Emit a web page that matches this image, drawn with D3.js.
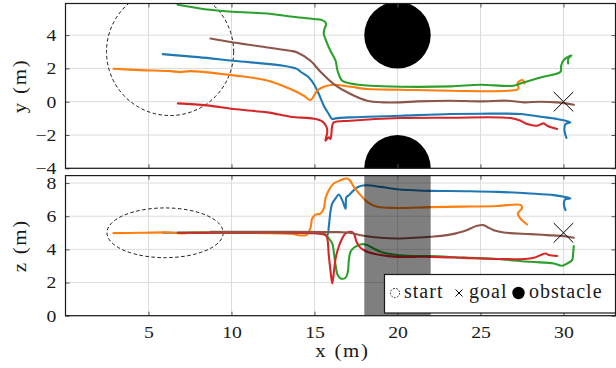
<!DOCTYPE html>
<html><head><meta charset="utf-8">
<script src="https://cdn.jsdelivr.net/npm/d3@7"></script>
<style>
body{margin:0;background:#fff}
svg{display:block}
text{font-family:"Liberation Serif","Times New Roman",serif;fill:#1a1a1a}
</style>
</head><body>
<svg id="c" width="616" height="368"></svg>
<script>
// ---------- data ----------
const xTicks = [5, 10, 15, 20, 25, 30];
const yTicks = [-4, -2, 0, 2, 4];
const zTicks = [0, 2, 4, 6, 8];
const seriesColors = ["#1f77b4", "#ff7f0e", "#2ca02c", "#d62728", "#8c564b"];

const blueXY = [[5.86,2.86],[8,2.68],[10.12,2.46],[13.13,2.16],[13.96,1.96],[14.16,1.8],[14.66,1.46],[14.96,1.06],[15.26,0.46],[15.56,-0.24],[15.86,-0.74],[16.07,-1.04],[16.27,-1.0],[17.17,-0.94],[20.18,-0.84],[23.19,-0.74],[24.99,-0.72],[27.41,-0.74],[28.61,-0.9],[29.62,-1.04],[30.42,-1.24],[30.12,-1.34],[30.06,-1.74],[30.18,-2.18]];
const orangeXY = [[2.89,1.98],[4.5,1.9],[6.3,1.84],[6.9,1.78],[7.5,1.84],[10.14,1.58],[12.15,1.28],[13.55,0.76],[14.36,0.36],[14.76,0.1],[15.16,0.66],[15.56,0.9],[16.16,1.02],[17.17,0.9],[18.19,0.76],[20.18,0.72],[23.19,0.66],[26.63,0.66],[27.29,0.78],[27.23,1.12],[27.53,1.3],[27.65,1.1]];
const greenXY = [[6.75,5.83],[8.73,5.52],[10.14,5.4],[12.15,5.3],[13.55,5.12],[14.96,4.97],[15.46,4.9],[15.7,4.7],[15.6,4.37],[15.56,4.07],[15.7,3.66],[15.96,3.06],[16.27,2.46],[16.39,1.86],[16.67,1.26],[17.17,1.1],[18.37,0.96],[20.18,0.9],[23.19,0.92],[24.99,1.02],[26.99,0.96],[27.59,1.16],[28.61,1.46],[29.82,1.8],[29.86,2.16],[29.98,2.46],[30.22,2.66],[30.48,2.78],[30.3,2.6],[30.28,2.3]];
const redXY = [[6.77,-0.1],[8.5,-0.22],[10.12,-0.44],[12.15,-0.64],[13.55,-0.9],[14.96,-1.02],[15.46,-1.18],[15.72,-1.5],[15.77,-1.84],[15.66,-2.34],[15.86,-2.14],[15.96,-2.24],[16.07,-1.44],[16.16,-1.24],[17.17,-1.14],[20.18,-0.98],[23.19,-0.96],[26.81,-0.98],[27.41,-1.14],[27.81,-1.34],[28.42,-1.44],[28.8,-1.3],[29.02,-1.44],[29.62,-1.64]];
const brownXY = [[8.73,3.8],[10.12,3.56],[12.17,3.26],[13.55,3.06],[13.96,2.96],[14.76,2.46],[15.36,1.8],[16.16,1.06],[17.17,0.46],[18.17,0.06],[19.17,-0.04],[20.18,-0.04],[21.19,0.02],[23.19,0.06],[24.99,0.02],[26.61,0.06],[27.61,-0.04],[28.61,0],[29.62,-0.04],[30.62,-0.18]];

const blueXZ = [[5.86,5.0],[10,5.0],[13.55,5.0],[15.46,4.96],[15.77,4.86],[15.86,5.36],[15.96,6.26],[16.07,6.77],[16.27,7.07],[16.46,7.31],[16.67,6.97],[16.87,6.46],[16.92,7.15],[17.07,7.27],[17.27,7.47],[17.47,7.67],[17.77,7.83],[18.17,7.87],[18.98,7.77],[19.98,7.63],[20.98,7.57],[21.99,7.53],[23.99,7.51],[26.01,7.47],[28.01,7.37],[29.42,7.27],[30.02,7.17],[30.42,7.07],[30.12,7.03],[30.02,6.77],[30.12,6.37]];
const orangeXZ = [[2.89,4.98],[4.5,5.0],[6.33,5.02],[6.94,4.96],[7.5,5.0],[9.94,5.0],[13.55,4.94],[14.16,4.84],[14.52,4.88],[14.76,5.3],[14.86,5.86],[15.06,6.1],[15.36,6.16],[15.56,6.46],[15.66,7.07],[15.86,7.57],[16.16,7.97],[16.57,8.17],[16.97,8.27],[17.17,8.11],[17.37,7.77],[17.77,7.27],[18.17,6.87],[18.78,6.57],[19.98,6.5],[21.99,6.55],[23.99,6.58],[26.01,6.62],[27.41,6.68],[27.51,6.5],[27.25,6.16],[27.41,5.86],[27.81,5.5]];
const greenXZ = [[6.75,5.0],[10,5.02],[13.55,5.02],[15.66,4.9],[15.86,4.66],[16.07,4.36],[16.16,3.86],[16.27,3.05],[16.4,2.45],[16.57,2.25],[16.87,2.29],[17.01,2.65],[17.07,3.35],[17.17,3.86],[17.37,4.1],[17.77,4.3],[18.07,4.3],[18.48,4.1],[18.98,3.86],[19.98,3.66],[20.98,3.6],[21.99,3.6],[23.99,3.5],[26.01,3.42],[28.01,3.25],[29.42,3.15],[29.92,3.01],[30.22,3.15],[30.52,3.35],[30.58,3.75],[30.62,4.2]];
const redXZ = [[6.77,5.0],[10,5.0],[13.55,5.0],[15.66,4.86],[15.77,4.66],[15.86,3.66],[15.96,2.75],[16.07,1.95],[16.16,2.55],[16.27,3.45],[16.46,4.16],[16.67,4.66],[16.87,4.96],[17.17,5.06],[17.37,4.96],[17.53,4.46],[17.77,4.1],[18.17,3.86],[18.98,3.66],[19.98,3.55],[20.98,3.55],[21.99,3.55],[23.99,3.49],[26.01,3.42],[27.61,3.42],[28.21,3.49],[28.92,3.75],[29.11,3.66],[29.62,3.6]];
const brownXZ = [[8.73,5.06],[10,5.06],[13.55,5.06],[15.96,5.04],[16.97,5.02],[17.97,4.82],[18.98,4.7],[19.98,4.66],[20.98,4.7],[21.99,4.76],[22.99,4.86],[23.99,5.1],[24.8,5.42],[25.2,5.46],[25.5,5.3],[25.8,5.16],[26.4,5.02],[28.01,4.92],[29.02,4.86],[30.02,4.8],[30.62,4.7]];

const obstacleCenters = [[20, 4], [20, -4]];
const obstacleRadius = 2;
const obstacleXRange = [18, 22];
const startXY = [6.3, 3], startXYRadius = 3.83;
const startXZ = [6.0, 5], startXZRadii = [3.5, 1.5];
const goalXY = [30, 0], goalXZ = [30, 5];
const legendLabels = ["start", "goal", "obstacle"];

// ---------- layout ----------
const svg = d3.select("#c");
const x = d3.scaleLinear().domain([0, 33.2]).range([65.5, 616.6]);
const yS = d3.scaleLinear().domain([-4, 5.9]).range([168.3, 3.5]);
const zS = d3.scaleLinear().domain([0, 8.45]).range([315.7, 175.6]);
const L = 65.5, R = 615.5;
const TICK_FS = 17, STRETCH = 1.16;

function panel(id, vScale, vTicks) {
  const [b, t] = vScale.range();
  const g = svg.append("g");
  svg.append("clipPath").attr("id", id)
    .append("rect").attr("x", L).attr("y", t).attr("width", R - L).attr("height", b - t);
  g.append("g").selectAll("line").data(xTicks).join("line")
    .attr("x1", d => x(d)).attr("x2", d => x(d)).attr("y1", t).attr("y2", b)
    .attr("stroke", "#dcdcdc").attr("stroke-width", 1);
  g.append("g").selectAll("line").data(vTicks).join("line")
    .attr("x1", L).attr("x2", R).attr("y1", d => vScale(d)).attr("y2", d => vScale(d))
    .attr("stroke", "#dcdcdc").attr("stroke-width", 1);
  const plot = g.append("g").attr("clip-path", `url(#${id})`);
  return {g, plot, t, b};
}

const line = (vs) => d3.line().x(d => x(d[0])).y(d => vs(d[1])).curve(d3.curveCatmullRom.alpha(0.5));

function drawSeries(plot, vs, list) {
  list.forEach((data, i) => {
    plot.append("path").attr("d", line(vs)(data)).attr("fill", "none")
      .attr("stroke", seriesColors[i]).attr("stroke-width", 2.1)
      .attr("stroke-linejoin", "round").attr("stroke-linecap", "round");
  });
}

function goal(plot, vs, p) {
  const cx = x(p[0]), cy = vs(p[1]), h = 9.8;
  plot.append("path").attr("d", `M${cx-h},${cy-h}L${cx+h},${cy+h}M${cx-h},${cy+h}L${cx+h},${cy-h}`)
    .attr("stroke", "#000").attr("stroke-width", 1).attr("fill", "none");
}

function styleText(sel) {
  sel.attr("font-size", TICK_FS).attr("fill", "#1a1a1a")
    .attr("font-family", "Liberation Serif, serif")
    .attr("transform", `scale(${STRETCH},1)`);
}

function frame(g, vs, vTicks, t, b, xLabels) {
  const left = g.append("g").attr("transform", `translate(${L},0)`)
    .call(d3.axisLeft(vs).tickValues(vTicks).tickSize(-4).tickPadding(7.8)
      .tickFormat(d => d < 0 ? "\u2212" + Math.abs(d) : d));
  left.select(".domain").remove();
  left.selectAll("line").attr("stroke", "#555");
  styleText(left.selectAll("text"));
  const right = g.append("g").attr("transform", `translate(${R},0)`)
    .call(d3.axisRight(vs).tickValues(vTicks).tickSize(-4).tickFormat(""));
  right.select(".domain").remove(); right.selectAll("line").attr("stroke", "#555");
  const top = g.append("g").attr("transform", `translate(0,${t})`)
    .call(d3.axisTop(x).tickValues(xTicks).tickSize(-4).tickFormat(""));
  top.select(".domain").remove(); top.selectAll("line").attr("stroke", "#555");
  const bot = g.append("g").attr("transform", `translate(0,${b})`)
    .call(d3.axisBottom(x).tickValues(xTicks).tickSize(-4).tickPadding(10.5).tickFormat(xLabels ? d => d : ""));
  bot.select(".domain").remove(); bot.selectAll("line").attr("stroke", "#555");
  styleText(bot.selectAll("text"));
  g.append("rect").attr("x", L).attr("y", t).attr("width", R - L).attr("height", b - t)
    .attr("fill", "none").attr("stroke", "#1a1a1a").attr("stroke-width", 1.2);
}

// ---------- top panel ----------
const P1 = panel("clipTop", yS, yTicks);
obstacleCenters.forEach(c => {
  P1.plot.append("ellipse").attr("cx", x(c[0])).attr("cy", yS(c[1]))
    .attr("rx", x(obstacleRadius) - x(0)).attr("ry", yS(0) - yS(obstacleRadius)).attr("fill", "#000");
});
P1.plot.append("ellipse").attr("cx", x(startXY[0])).attr("cy", yS(startXY[1]))
  .attr("rx", x(startXYRadius) - x(0)).attr("ry", yS(0) - yS(startXYRadius))
  .attr("fill", "none").attr("stroke", "#000").attr("stroke-width", 0.9).attr("stroke-dasharray", "3.5,2.5");
drawSeries(P1.plot, yS, [blueXY, orangeXY, greenXY, redXY, brownXY]);
goal(P1.plot, yS, goalXY);
frame(P1.g, yS, yTicks, P1.t, P1.b, false);

// ---------- bottom panel ----------
const P2 = panel("clipBot", zS, zTicks);
P2.plot.append("ellipse").attr("cx", x(startXZ[0])).attr("cy", zS(startXZ[1]))
  .attr("rx", x(startXZRadii[0]) - x(0)).attr("ry", zS(0) - zS(startXZRadii[1]))
  .attr("fill", "none").attr("stroke", "#000").attr("stroke-width", 0.9).attr("stroke-dasharray", "3.5,2.5");
drawSeries(P2.plot, zS, [blueXZ, orangeXZ, greenXZ, redXZ, brownXZ]);
goal(P2.plot, zS, goalXZ);
P2.plot.append("rect").attr("x", x(obstacleXRange[0])).attr("y", P2.t)
  .attr("width", x(obstacleXRange[1]) - x(obstacleXRange[0])).attr("height", P2.b - P2.t)
  .attr("fill", "#000").attr("fill-opacity", 0.5);
frame(P2.g, zS, zTicks, P2.t, P2.b, true);

// ---------- axis labels ----------
const LAB_FS = 18;
svg.append("text").attr("transform", `translate(342.5,357) scale(${STRETCH},1)`).attr("text-anchor", "middle")
  .attr("font-size", LAB_FS).attr("letter-spacing", 1.5).text("x (m)");
svg.append("text").attr("transform", `translate(26,${(yS.range()[0] + yS.range()[1]) / 2}) rotate(-90) scale(${STRETCH},1)`)
  .attr("text-anchor", "middle").attr("font-size", LAB_FS).attr("letter-spacing", 1.5).text("y (m)");
svg.append("text").attr("transform", `translate(26,${(zS.range()[0] + zS.range()[1]) / 2}) rotate(-90) scale(${STRETCH},1)`)
  .attr("text-anchor", "middle").attr("font-size", LAB_FS).attr("letter-spacing", 1.5).text("z (m)");

// ---------- legend ----------
const lg = svg.append("g");
lg.append("rect").attr("x", 384.5).attr("y", 274.5).attr("width", 231).attr("height", 38.5)
  .attr("fill", "#fff").attr("stroke", "#1a1a1a").attr("stroke-width", 1.2);
const ly = 297.5;
lg.append("circle").attr("cx", 395).attr("cy", 293).attr("r", 4.6)
  .attr("fill", "none").attr("stroke", "#000").attr("stroke-width", 0.9).attr("stroke-dasharray", "1.6,1.6");
lg.append("text").attr("x", 404).attr("y", ly).attr("font-size", 20).attr("letter-spacing", 1).text(legendLabels[0]);
lg.append("path").attr("d", "M455.5,289.5L462.5,296.5M455.5,296.5L462.5,289.5").attr("stroke", "#000").attr("stroke-width", 1);
lg.append("text").attr("x", 469).attr("y", ly).attr("font-size", 20).attr("letter-spacing", 1).text(legendLabels[1]);
lg.append("circle").attr("cx", 518.5).attr("cy", 293).attr("r", 6.2).attr("fill", "#000");
lg.append("text").attr("x", 529).attr("y", ly).attr("font-size", 20).attr("letter-spacing", 1).text(legendLabels[2]);
</script>
</body></html>
